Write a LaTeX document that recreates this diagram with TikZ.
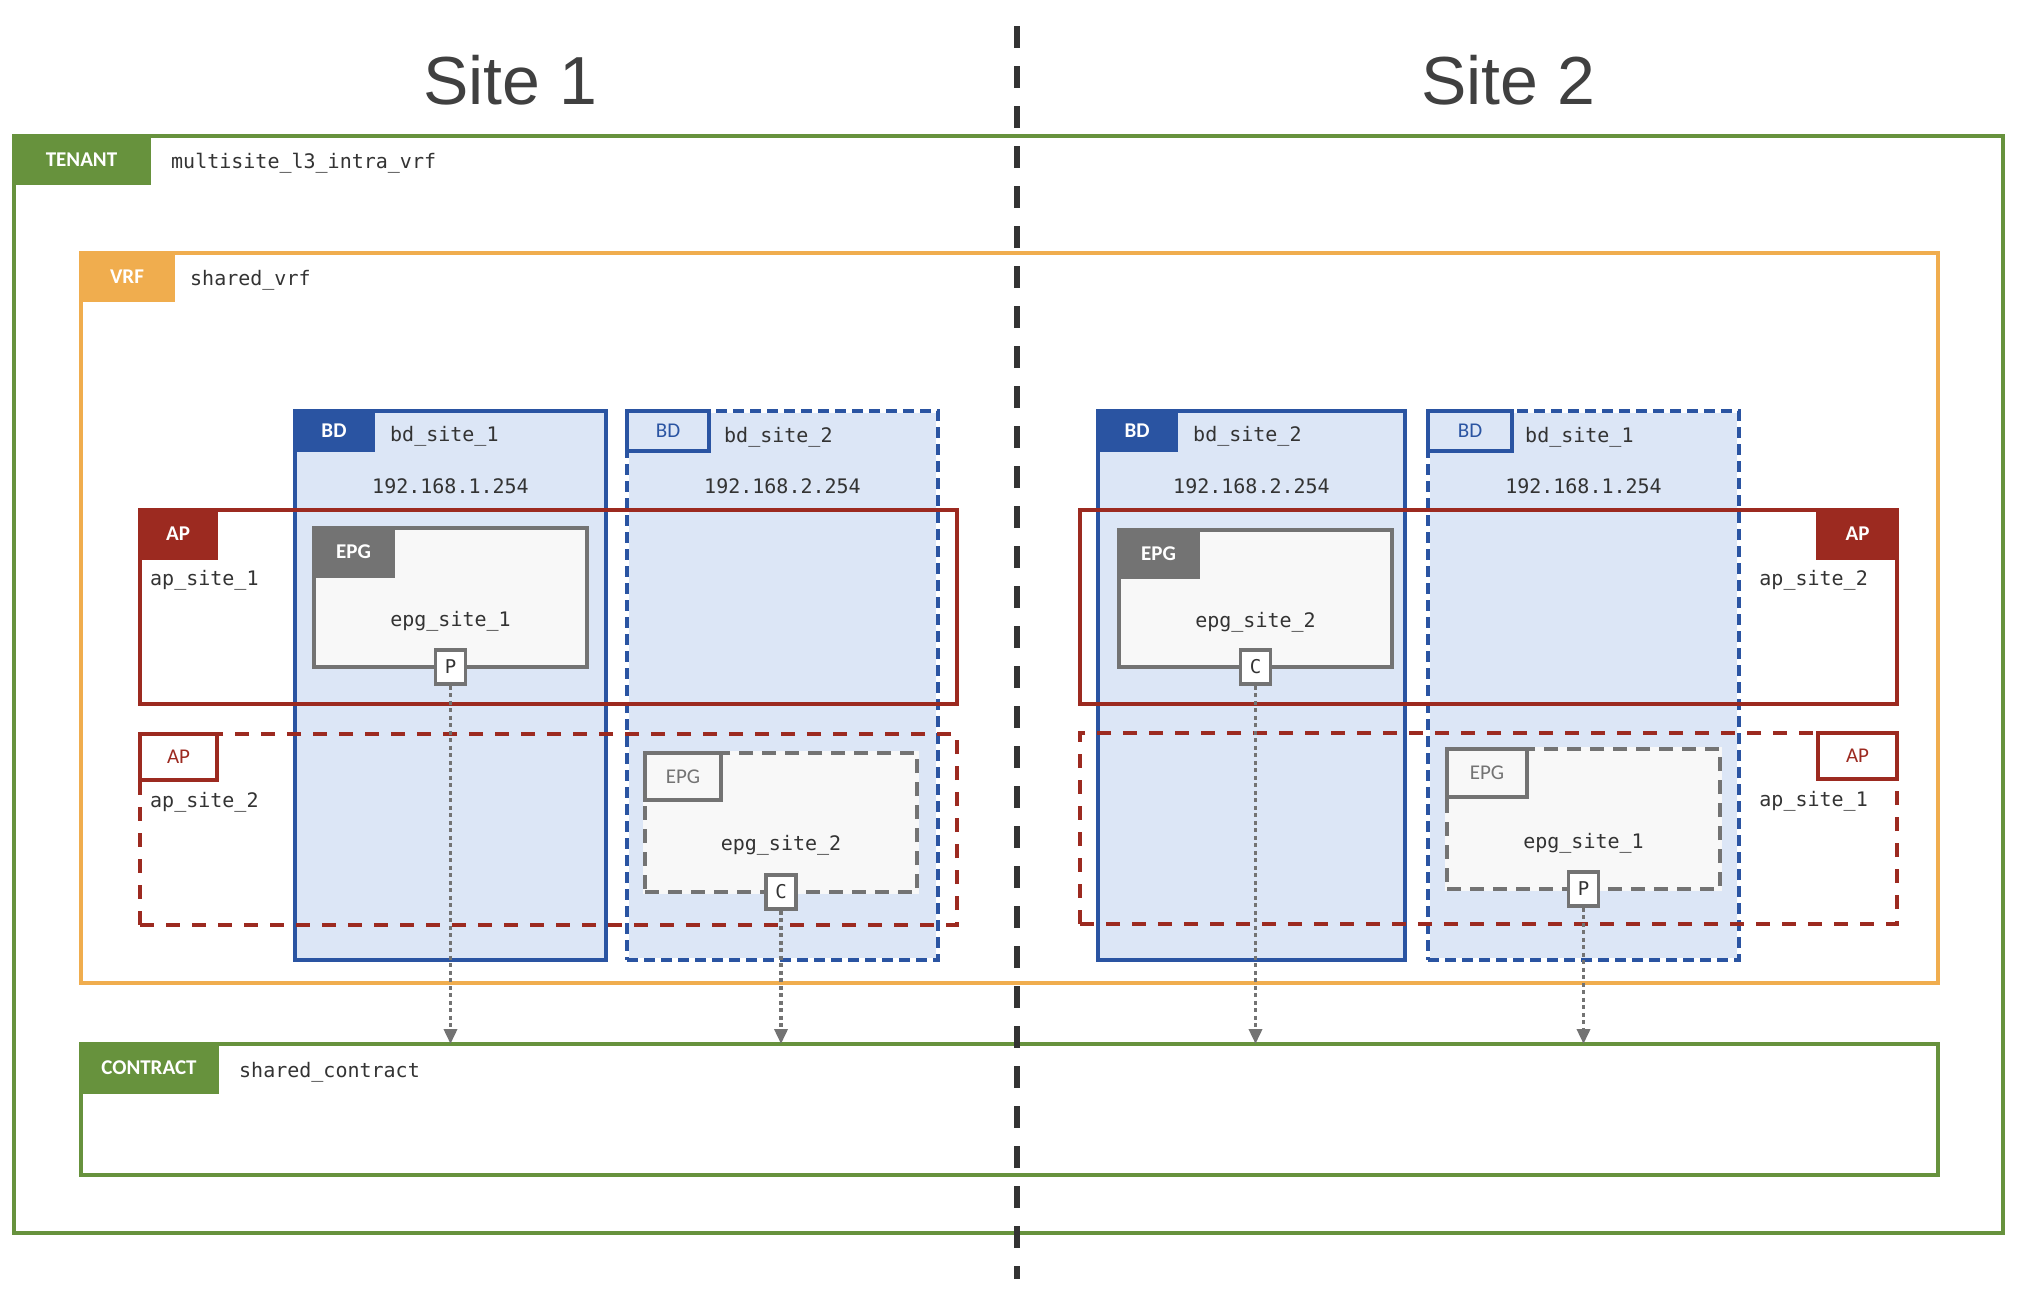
\documentclass[tikz,border=0pt]{standalone}
\usepackage{fontspec}
\usepackage{tikz}
\usetikzlibrary{arrows.meta,positioning}
\newfontfamily\tabfont{Carlito}
\newfontfamily\codefont{DejaVu Sans Mono}
\newfontfamily\sitefont{Liberation Sans}
\definecolor{acigreen}{HTML}{67923D}
\definecolor{aciorange}{HTML}{F0AD4E}
\definecolor{aciblue}{HTML}{2A54A2}
\definecolor{acibluefill}{HTML}{DCE6F6}
\definecolor{acired}{HTML}{9C2A20}
\definecolor{acigray}{HTML}{737373}
\definecolor{aciepgfill}{HTML}{F8F8F8}
\definecolor{acitext}{HTML}{333333}
\definecolor{sitegray}{HTML}{404040}
\tikzset{
  frame/.style={draw,line width=3.5pt,anchor=north west,inner sep=0pt,outer sep=0pt},
  tenantframe/.style={frame,draw=acigreen,fill=white},
  vrfframe/.style={frame,draw=aciorange,fill=white},
  bdframe/.style={frame,draw=aciblue,fill=acibluefill},
  bddashframe/.style={frame,draw=white,fill=acibluefill,postaction={draw=aciblue,dash pattern=on 11pt off 6pt}},
  apframe/.style={frame,draw=acired},
  apdashframe/.style={frame,draw=acired,dash pattern=on 14pt off 12pt},
  epgframe/.style={frame,draw=acigray,fill=aciepgfill},
  epgdashframe/.style={frame,draw=aciepgfill,fill=aciepgfill,postaction={draw=acigray,dash pattern=on 14pt off 9pt}},
  tab/.style={draw,line width=3.5pt,inner sep=0pt,outer sep=0pt,anchor=north west,font={\tabfont\fontsize{21}{21}\selectfont}},
  tabfull/.style={tab,draw=#1,fill=#1,text=white,font={\tabfont\bfseries\fontsize{21}{21}\selectfont}},
  tabline/.style 2 args={tab,draw=#1,fill=#2,text=#1},
  objname/.style={inner sep=0pt,text=acitext,font={\codefont\fontsize{20}{24}\selectfont}},
  endpoint/.style={draw=acigray,line width=3.5pt,fill=white,minimum width=30pt,minimum height=34pt,inner sep=0pt,text=acitext,font={\codefont\fontsize{19}{19}\selectfont}},
  contractarrow/.style={draw=acigray,line width=3.5pt,dash pattern=on 4pt off 3.5pt,-{Triangle[length=15pt,width=13pt]}},
  sitesep/.style={draw=acitext,line width=6pt,dash pattern=on 22pt off 18pt},
  sitetitle/.style={inner sep=0pt,text=sitegray,font={\sitefont\fontsize{68}{68}\selectfont}}
}
\begin{document}
\begin{tikzpicture}[x=1pt,y=-1pt]
\useasboundingbox[fill=white] (0,0) rectangle (2026,1296);
\node[sitetitle] (site1) at (510,80) {Site 1};
\node[sitetitle] (site2) at (1508,80) {Site 2};
% tenant / vrf
\node[tenantframe,minimum width=1989pt,minimum height=1097pt] (tenant) at (14,136) {};
\node[tabfull=acigreen,minimum width=135pt,minimum height=47pt] (tenanttab) at (tenant.north west) {TENANT};
\node[objname,right=22pt of tenanttab,yshift=-4pt] {multisite\_l3\_intra\_vrf};
\node[vrfframe,minimum width=1857pt,minimum height=730pt] (vrf) at (81,253) {};
\node[tabfull=aciorange,minimum width=92pt,minimum height=47pt] (vrftab) at (vrf.north west) {VRF};
\node[objname,right=17pt of vrftab,yshift=-4pt] {shared\_vrf};
% bridge domains
\node[bdframe,minimum width=311pt,minimum height=549pt] (bdl1) at (295,411) {};
\node[tabfull=aciblue,minimum width=78pt,minimum height=39pt] (bdl1tab) at (bdl1.north west) {BD};
\node[objname,right=17pt of bdl1tab,yshift=-6pt] {bd\_site\_1};
\node[objname] at ([yshift=-75pt]bdl1.north) {192.168.1.254};
\node[bddashframe,minimum width=311pt,minimum height=549pt] (bdl2) at (627,411) {};
\node[tabline={aciblue}{acibluefill},minimum width=82pt,minimum height=40pt] (bdl2tab) at (bdl2.north west) {BD};
\node[objname,right=15pt of bdl2tab,yshift=-6pt] {bd\_site\_2};
\node[objname] at ([yshift=-75pt]bdl2.north) {192.168.2.254};
\node[bdframe,minimum width=307pt,minimum height=549pt] (bdr2) at (1098,411) {};
\node[tabfull=aciblue,minimum width=78pt,minimum height=39pt] (bdr2tab) at (bdr2.north west) {BD};
\node[objname,right=17pt of bdr2tab,yshift=-6pt] {bd\_site\_2};
\node[objname] at ([yshift=-75pt]bdr2.north) {192.168.2.254};
\node[bddashframe,minimum width=311pt,minimum height=549pt] (bdr1) at (1428,411) {};
\node[tabline={aciblue}{acibluefill},minimum width=84pt,minimum height=40pt] (bdr1tab) at (bdr1.north west) {BD};
\node[objname,right=13pt of bdr1tab,yshift=-6pt] {bd\_site\_1};
\node[objname] at ([yshift=-75pt]bdr1.north) {192.168.1.254};
% application profiles
\node[apframe,minimum width=817pt,minimum height=194pt] (apl1) at (140,510) {};
\node[tabfull=acired,minimum width=76pt,minimum height=48pt] (apl1tab) at (apl1.north west) {AP};
\node[objname,anchor=west] at ([xshift=10pt,yshift=-22pt]apl1tab.south west) {ap\_site\_1};
\node[apdashframe,minimum width=817pt,minimum height=191pt] (apl2) at (140,734) {};
\node[tabline={acired}{white},minimum width=77pt,minimum height=46pt] (apl2tab) at (apl2.north west) {AP};
\node[objname,anchor=west] at ([xshift=10pt,yshift=-22pt]apl2tab.south west) {ap\_site\_2};
\node[apframe,minimum width=817pt,minimum height=194pt] (apr2) at (1080,510) {};
\node[tabfull=acired,anchor=north east,minimum width=79pt,minimum height=48pt] (apr2tab) at (apr2.north east) {AP};
\node[objname,anchor=east] at ([xshift=-29pt,yshift=-22pt]apr2tab.south east) {ap\_site\_2};
\node[apdashframe,minimum width=817pt,minimum height=191pt] (apr1) at (1080,733) {};
\node[tabline={acired}{white},anchor=north east,minimum width=79pt,minimum height=46pt] (apr1tab) at (apr1.north east) {AP};
\node[objname,anchor=east] at ([xshift=-29pt,yshift=-22pt]apr1tab.south east) {ap\_site\_1};
% endpoint groups
\node[epgframe,minimum width=273pt,minimum height=139pt] (epgl1) at (314,528) {};
\node[tabfull=acigray,minimum width=79pt,minimum height=48pt] (epgl1tab) at (epgl1.north west) {EPG};
\node[objname] at ([yshift=-24pt]epgl1.center) {epg\_site\_1};
\node[endpoint] (pl1) at (epgl1.south) {P};
\node[epgdashframe,minimum width=272pt,minimum height=139pt] (epgl2) at (645,753) {};
\node[tabline={acigray}{aciepgfill},minimum width=76pt,minimum height=47pt] (epgl2tab) at (epgl2.north west) {EPG};
\node[objname] at ([yshift=-23pt]epgl2.center) {epg\_site\_2};
\node[endpoint] (cl2) at (epgl2.south) {C};
\node[epgframe,minimum width=273pt,minimum height=137pt] (epgr2) at (1119,530) {};
\node[tabfull=acigray,minimum width=79pt,minimum height=47pt] (epgr2tab) at (epgr2.north west) {EPG};
\node[objname] at ([yshift=-24pt]epgr2.center) {epg\_site\_2};
\node[endpoint] (cr2) at (epgr2.south) {C};
\node[epgdashframe,minimum width=273pt,minimum height=140pt] (epgr1) at (1447,749) {};
\node[tabline={acigray}{aciepgfill},minimum width=80pt,minimum height=48pt] (epgr1tab) at (epgr1.north west) {EPG};
\node[objname] at ([yshift=-24pt]epgr1.center) {epg\_site\_1};
\node[endpoint] (pr1) at (epgr1.south) {P};
% contract
\node[frame,draw=acigreen,fill=white,minimum width=1857pt,minimum height=131pt] (contract) at (81,1044) {};
\node[tabfull=acigreen,minimum width=136pt,minimum height=48pt] (contracttab) at (contract.north west) {CONTRACT};
\node[objname,right=22pt of contracttab,yshift=-4pt] {shared\_contract};
\foreach \n in {pl1,cl2,cr2,pr1}{\draw[contractarrow] (\n.south) -- (\n.south |- contract.north);}
% site border
\coordinate (septop) at (1017,26);
\coordinate (sepbot) at (1017,1279);
\draw[sitesep] (septop) -- (sepbot);
\end{tikzpicture}
\end{document}
